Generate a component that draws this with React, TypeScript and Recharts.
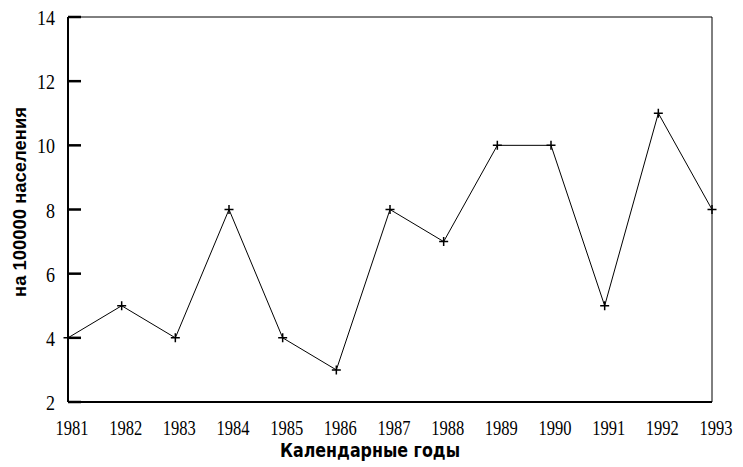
import { LineChart, Line, XAxis, YAxis, ReferenceLine } from 'recharts';

// годы и значения (на 100000 населения)
const years = [1981, 1982, 1983, 1984, 1985, 1986, 1987, 1988, 1989, 1990, 1991, 1992, 1993];
const rates = [4, 5, 4, 8, 4, 3, 8, 7, 10, 10, 5, 11, 8];
const yTicks = [2, 4, 6, 8, 10, 12, 14];

const data = years.map((year, i) => ({ year, rate: rates[i] }));

const tickFont = '"Liberation Serif", "DejaVu Serif", serif';

const XTick = (props: any) => {
  const { x, y, payload } = props;
  return (
    <text
      x={x + 4}
      y={y + 33}
      textAnchor="middle"
      fontFamily={tickFont}
      fontSize={22}
      fill="#000"
      textLength={33}
      lengthAdjust="spacingAndGlyphs"
    >
      {payload.value}
    </text>
  );
};

// метка + короткая засечка внутрь графика
const YTick = (props: any) => {
  const { x, y, payload } = props;
  const label = String(payload.value);
  return (
    <g>
      <line x1={x + 13} y1={y} x2={x + 26} y2={y} stroke="#000" strokeWidth={2.5} />
      <text
        x={x}
        y={y + 8}
        textAnchor="end"
        fontFamily={tickFont}
        fontSize={22}
        fill="#000"
        textLength={label.length * 9}
        lengthAdjust="spacingAndGlyphs"
      >
        {label}
      </text>
    </g>
  );
};

const PlusDot = (props: any) => {
  const { cx, cy, index } = props;
  return (
    <path
      key={`dot-${index}`}
      d={`M${cx - 4.5},${cy}H${cx + 4.5}M${cx},${cy - 4.5}V${cy + 4.5}`}
      stroke="#000"
      strokeWidth={1.5}
      fill="none"
    />
  );
};

export default function App() {
  return (
    <div style={{ position: 'absolute', left: 0, top: 0, background: '#fff' }}>
      <LineChart width={743} height={467} data={data} margin={{ top: 17, right: 31, left: 0, bottom: 0 }}>
        <XAxis
          dataKey="year"
          type="number"
          domain={[1981, 1993]}
          ticks={years}
          interval={0}
          height={65}
          tickSize={0}
          tickMargin={0}
          tickLine={false}
          axisLine={{ stroke: '#000', strokeWidth: 2 }}
          tick={<XTick />}
          label={(p: any) => (
            <text
              x={370}
              y={457}
              textAnchor="middle"
              fontFamily='"Liberation Sans Narrow", "DejaVu Sans Condensed", sans-serif'
              fontWeight="bold"
              fontSize={19}
              fill="#000"
              textLength={180}
              lengthAdjust="spacingAndGlyphs"
            >
              Календарные годы
            </text>
          )}
        />
        <YAxis
          type="number"
          domain={[2, 14]}
          ticks={yTicks}
          interval={0}
          width={68}
          tickSize={0}
          tickMargin={13}
          tickLine={false}
          axisLine={{ stroke: '#000', strokeWidth: 2 }}
          tick={<YTick />}
          label={(p: any) => (
            <text
              x={26}
              y={202}
              transform="rotate(-90 26 202)"
              textAnchor="middle"
              fontFamily='"Liberation Sans", Arial, sans-serif'
              fontWeight="bold"
              fontSize={18}
              fill="#000"
              textLength={190}
              lengthAdjust="spacingAndGlyphs"
            >
              на 100000 населения
            </text>
          )}
        />
        <ReferenceLine y={14} stroke="#000" strokeWidth={1} />
        <ReferenceLine x={1993} stroke="#000" strokeWidth={1} />
        <Line
          type="linear"
          dataKey="rate"
          stroke="#000"
          strokeWidth={1}
          dot={<PlusDot />}
          activeDot={false}
          isAnimationActive={false}
        />
      </LineChart>
    </div>
  );
}
